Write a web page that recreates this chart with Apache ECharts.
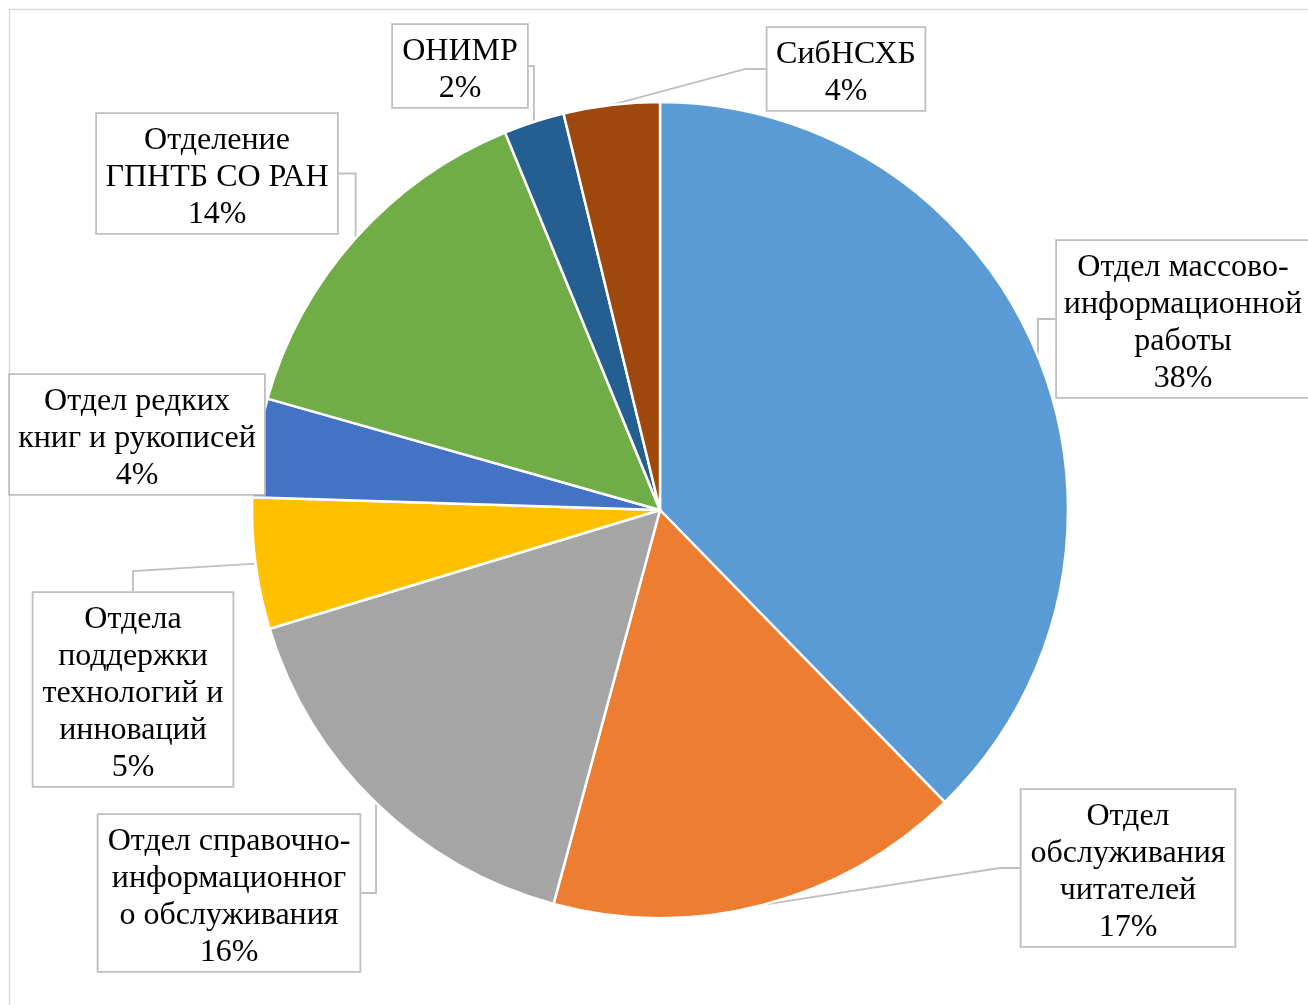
<!DOCTYPE html>
<html>
<head>
<meta charset="utf-8">
<script src="https://cdn.jsdelivr.net/npm/echarts@6/dist/echarts.min.js"></script>
<style>
html,body{margin:0;padding:0;background:#fff;}
#chart{width:1308px;height:1005px;}
</style>
</head>
<body>
<div id="chart"></div>
<script>
// Data
const categories = [
  'Отдел массово-\nинформационной\nработы',
  'Отдел\nобслуживания\nчитателей',
  'Отдел справочно-\nинформационног\nо обслуживания',
  'Отдела\nподдержки\nтехнологий и\nинноваций',
  'Отдел редких\nкниг и рукописей',
  'Отделение\nГПНТБ СО РАН',
  'ОНИМР',
  'СибНСХБ'
];
const values = [37.7, 16.5, 16.1, 5.2, 3.9, 14.4, 2.4, 3.8];
const colors = ['#5B9BD5', '#ED7D31', '#A5A5A5', '#FFC000', '#4472C4', '#70AD47', '#255E91', '#9E480E'];

// Label box layout (center x, top y, box width)
const labelBoxes = [
  [1183, 241, 252],
  [1128, 790, 213],
  [229, 815, 261],
  [133, 593, 199],
  [137, 375, 254],
  [217, 114, 240],
  [460, 25, 134],
  [846, 28, 157]
];

const chart = echarts.init(document.getElementById('chart'));
const option = {
  animation: false,
  backgroundColor: '#ffffff',
  graphic: [{
    type: 'rect',
    shape: {x: 9.5, y: 9.5, width: 1400, height: 1100},
    style: {fill: 'none', stroke: '#D9D9D9', lineWidth: 1.5},
    silent: true
  }],
  series: [{
    type: 'pie',
    center: [660, 510],
    radius: 408,
    startAngle: 90,
    clockwise: true,
    percentPrecision: 0,
    avoidLabelOverlap: false,
    itemStyle: {borderColor: '#ffffff', borderWidth: 2.5},
    label: {
      show: true,
      position: 'outside',
      formatter: '{b}\n{d}%',
      fontFamily: '"Liberation Serif", "Times New Roman", serif',
      fontSize: 32,
      lineHeight: 37,
      color: '#000000',
      align: 'center',
      backgroundColor: '#ffffff',
      borderColor: '#BFBFBF',
      borderWidth: 1.8,
      padding: [8, 0, 0, 0]
    },
    labelLine: {
      show: true,
      length: 20,
      length2: 20,
      lineStyle: {color: '#BFBFBF', width: 1.8}
    },
    labelLayout: function (p) {
      const b = labelBoxes[p.dataIndex];
      return {x: b[0], y: b[1], align: 'center', verticalAlign: 'top'};
    },
    data: categories.map((c, i) => ({
      name: c,
      value: values[i],
      itemStyle: {color: colors[i]},
      label: {width: labelBoxes[i][2]}
    }))
  }]
};
chart.setOption(option);
</script>
</body>
</html>
